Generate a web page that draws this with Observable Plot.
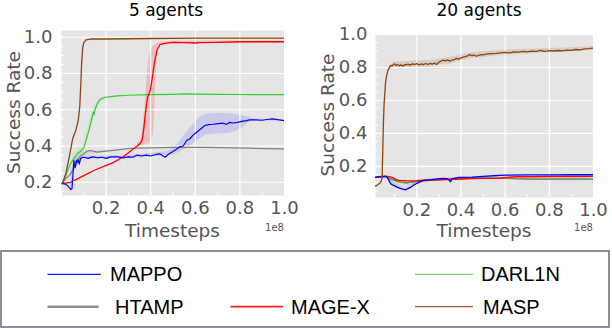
<!DOCTYPE html>
<html><head><meta charset="utf-8">
<script src="https://cdn.jsdelivr.net/npm/d3@7"></script>
<script src="https://cdn.jsdelivr.net/npm/@observablehq/plot@0.6"></script>
<style>
html,body{margin:0;padding:0;background:#fff;}
#chart{position:relative;width:612px;height:328px;overflow:hidden;font-family:"DejaVu Sans",sans-serif;}
#chart > svg{position:absolute;}
</style></head><body><div id="chart"></div>
<script>
// ---------- data ----------
const panelTitles = ["5 agents", "20 agents"];
const xLabel = "Timesteps";
const yLabel = "Success Rate";
const xOffsetText = "1e8";
const xTicks = [0.2, 0.4, 0.6, 0.8, 1.0];
const yTicks = [0.2, 0.4, 0.6, 0.8, 1.0];
const xMinorTicks = [0.0, 0.1, 0.2, 0.3, 0.4, 0.5, 0.6, 0.7, 0.8, 0.9, 1.0];
const yMinorTicks = [0.05, 0.1, 0.15, 0.2, 0.25, 0.3, 0.35, 0.4, 0.45, 0.5, 0.55, 0.6, 0.65, 0.7, 0.75, 0.8, 0.85, 0.9, 0.95, 1.0];
const methods = ["MAPPO", "DARL1N", "HTAMP", "MAGE-X", "MASP"];
const colors = ["#0000ff", "#33cc33", "#808080", "#ff0000", "#8b4513"];
const legendColors = ["#1a1aff", "#7fd07f", "#8a8a8a", "#ff1a1a", "#9a5a3a"];

// 5 agents  [timesteps (1e8), success rate]
const mappo5 = [[0.003,0.195],[0.015,0.19],[0.027,0.182],[0.035,0.17],[0.042,0.16],[0.047,0.165],[0.052,0.25],[0.055,0.32],[0.058,0.30],[0.062,0.28],[0.066,0.32],[0.07,0.31],[0.075,0.325],[0.08,0.30],[0.085,0.33],[0.09,0.335],[0.1,0.338],[0.12,0.332],[0.14,0.34],[0.16,0.335],[0.18,0.338],[0.2,0.332],[0.22,0.34],[0.25,0.34],[0.28,0.335],[0.3,0.34],[0.32,0.338],[0.34,0.35],[0.36,0.345],[0.38,0.35],[0.4,0.345],[0.42,0.352],[0.44,0.357],[0.455,0.345],[0.465,0.338],[0.475,0.35],[0.487,0.36],[0.5,0.37],[0.517,0.384],[0.53,0.395],[0.546,0.40],[0.561,0.43],[0.576,0.44],[0.59,0.46],[0.606,0.476],[0.62,0.49],[0.643,0.513],[0.66,0.518],[0.68,0.52],[0.695,0.522],[0.72,0.526],[0.74,0.52],[0.754,0.53],[0.77,0.527],[0.79,0.53],[0.813,0.537],[0.83,0.54],[0.843,0.544],[0.87,0.544],[0.9,0.542],[0.92,0.546],[0.947,0.55],[0.97,0.545],[1.0,0.54]];
const darl1n5 = [[0.003,0.195],[0.015,0.22],[0.027,0.265],[0.04,0.30],[0.049,0.32],[0.06,0.34],[0.071,0.357],[0.085,0.37],[0.1,0.39],[0.11,0.43],[0.123,0.485],[0.13,0.52],[0.138,0.56],[0.142,0.585],[0.145,0.57],[0.148,0.59],[0.153,0.61],[0.16,0.632],[0.168,0.65],[0.18,0.66],[0.197,0.669],[0.25,0.676],[0.3,0.68],[0.4,0.683],[0.5,0.685],[0.55,0.687],[0.6,0.686],[0.7,0.685],[0.8,0.684],[0.9,0.683],[1.0,0.683]];
const htamp5 = [[0.003,0.195],[0.02,0.22],[0.041,0.246],[0.055,0.28],[0.071,0.32],[0.085,0.345],[0.1,0.357],[0.115,0.372],[0.13,0.375],[0.145,0.37],[0.16,0.366],[0.19,0.37],[0.22,0.375],[0.25,0.379],[0.32,0.388],[0.4,0.39],[0.5,0.392],[0.55,0.393],[0.65,0.392],[0.77,0.39],[0.84,0.388],[0.92,0.386],[1.0,0.384]];
const magex5 = [[0.003,0.195],[0.02,0.195],[0.041,0.2],[0.071,0.219],[0.1,0.237],[0.145,0.265],[0.19,0.288],[0.234,0.31],[0.279,0.342],[0.323,0.385],[0.35,0.41],[0.361,0.43],[0.368,0.485],[0.376,0.577],[0.386,0.669],[0.398,0.706],[0.405,0.761],[0.416,0.853],[0.428,0.927],[0.442,0.96],[0.472,0.967],[0.502,0.972],[0.55,0.97],[0.6,0.968],[0.62,0.97],[0.7,0.972],[0.8,0.975],[0.9,0.975],[1.0,0.975]];
const masp5 = [[0.003,0.19],[0.02,0.25],[0.035,0.34],[0.05,0.44],[0.065,0.49],[0.075,0.54],[0.082,0.62],[0.087,0.75],[0.09,0.85],[0.095,0.94],[0.1,0.97],[0.11,0.985],[0.13,0.99],[0.2,0.99],[0.4,0.993],[0.6,0.995],[0.8,0.995],[1.0,0.995]];

// 5 agents bands [timesteps, low, high]
const mappo5Band = [[0.04,0.15,0.175],[0.06,0.27,0.33],[0.1,0.33,0.345],[0.3,0.333,0.347],[0.48,0.35,0.37],[0.5,0.35,0.39],[0.52,0.36,0.41],[0.546,0.375,0.45],[0.57,0.39,0.49],[0.6,0.42,0.53],[0.62,0.44,0.56],[0.65,0.46,0.575],[0.7,0.467,0.58],[0.75,0.467,0.578],[0.8,0.49,0.57],[0.84,0.53,0.56],[0.86,0.535,0.55],[0.88,0.54,0.547],[1.0,0.535,0.545]];
const magex5Band = [[0.34,0.39,0.41],[0.355,0.40,0.43],[0.362,0.402,0.47],[0.368,0.405,0.53],[0.375,0.408,0.64],[0.385,0.41,0.80],[0.395,0.412,0.90],[0.405,0.43,0.94],[0.412,0.46,0.95],[0.418,0.58,0.955],[0.423,0.78,0.96],[0.43,0.93,0.965],[0.44,0.955,0.968],[0.46,0.96,0.972],[0.5,0.965,0.978],[1.0,0.968,0.98]];
const darl1n5Band = [[0.05,0.30,0.35],[0.1,0.36,0.41],[0.13,0.49,0.56],[0.15,0.58,0.63],[0.18,0.65,0.67],[0.25,0.672,0.68]];
const htamp5Band = [[0.04,0.22,0.27],[0.07,0.29,0.34],[0.1,0.345,0.37],[0.2,0.365,0.38]];

// 20 agents
const mappo20 = [[0.013,0.133],[0.03,0.137],[0.06,0.139],[0.066,0.133],[0.075,0.113],[0.081,0.095],[0.09,0.087],[0.103,0.08],[0.113,0.072],[0.125,0.066],[0.135,0.062],[0.15,0.058],[0.16,0.065],[0.171,0.072],[0.185,0.085],[0.195,0.093],[0.21,0.103],[0.225,0.113],[0.25,0.117],[0.285,0.123],[0.315,0.127],[0.34,0.125],[0.353,0.107],[0.36,0.125],[0.39,0.133],[0.45,0.135],[0.5,0.139],[0.55,0.143],[0.6,0.147],[0.7,0.148],[0.8,0.148],[0.9,0.149],[1.0,0.149]];
const darl1n20 = [[0.013,0.133],[0.03,0.137],[0.06,0.136],[0.09,0.117],[0.12,0.105],[0.15,0.099],[0.18,0.104],[0.225,0.112],[0.3,0.119],[0.376,0.124],[0.45,0.128],[0.57,0.128],[0.65,0.125],[0.72,0.123],[0.85,0.123],[1.0,0.123]];
const htamp20 = [[0.013,0.133],[0.03,0.137],[0.06,0.138],[0.09,0.119],[0.12,0.107],[0.15,0.10],[0.18,0.105],[0.225,0.113],[0.3,0.119],[0.376,0.125],[0.45,0.13],[0.57,0.129],[0.65,0.126],[0.72,0.123],[0.85,0.123],[1.0,0.123]];
const magex20 = [[0.013,0.133],[0.03,0.137],[0.058,0.141],[0.075,0.138],[0.088,0.133],[0.105,0.119],[0.12,0.115],[0.15,0.113],[0.195,0.112],[0.24,0.117],[0.3,0.119],[0.376,0.122],[0.45,0.126],[0.5,0.127],[0.577,0.128],[0.6,0.133],[0.65,0.137],[0.72,0.137],[0.8,0.138],[0.87,0.139],[0.93,0.138],[1.0,0.139]];
const masp20 = [[0.013,0.08],[0.025,0.09],[0.035,0.10],[0.04,0.115],[0.043,0.13],[0.046,0.30],[0.049,0.47],[0.052,0.58],[0.055,0.64],[0.058,0.70],[0.062,0.74],[0.066,0.765],[0.07,0.785],[0.076,0.80],[0.082,0.812],[0.088,0.808],[0.094,0.818],[0.1,0.822],[0.106,0.812],[0.112,0.818],[0.12,0.81],[0.128,0.816],[0.136,0.808],[0.144,0.817],[0.152,0.815],[0.16,0.82],[0.17,0.814],[0.18,0.822],[0.19,0.818],[0.2,0.823],[0.21,0.815],[0.22,0.822],[0.23,0.817],[0.24,0.824],[0.25,0.818],[0.26,0.825],[0.27,0.82],[0.28,0.826],[0.29,0.818],[0.3,0.832],[0.31,0.838],[0.32,0.845],[0.33,0.84],[0.34,0.846],[0.35,0.838],[0.36,0.845],[0.37,0.848],[0.38,0.855],[0.39,0.85],[0.4,0.858],[0.41,0.862],[0.42,0.866],[0.43,0.87],[0.44,0.878],[0.45,0.872],[0.46,0.876],[0.47,0.868],[0.48,0.874],[0.49,0.878],[0.5,0.876],[0.52,0.882],[0.54,0.884],[0.56,0.886],[0.58,0.889],[0.6,0.891],[0.62,0.889],[0.64,0.895],[0.66,0.893],[0.68,0.897],[0.7,0.895],[0.72,0.899],[0.74,0.897],[0.76,0.903],[0.78,0.898],[0.8,0.902],[0.82,0.9],[0.84,0.903],[0.86,0.901],[0.88,0.905],[0.9,0.904],[0.92,0.909],[0.94,0.907],[0.96,0.913],[0.98,0.914],[1.0,0.918]];

// 20 agents bands
const masp20Band = [[0.075,0.78,0.81],[0.1,0.80,0.835],[0.15,0.80,0.835],[0.2,0.80,0.84],[0.25,0.80,0.84],[0.3,0.815,0.85],[0.35,0.82,0.86],[0.4,0.84,0.875],[0.45,0.855,0.89],[0.5,0.86,0.895],[0.6,0.875,0.905],[0.7,0.882,0.91],[0.8,0.89,0.915],[0.9,0.895,0.92],[1.0,0.905,0.928]];
const darl1n20Band = [[0.06,0.13,0.14],[0.09,0.095,0.125],[0.12,0.082,0.118],[0.15,0.078,0.112],[0.18,0.085,0.115],[0.22,0.098,0.12],[0.3,0.11,0.125],[0.4,0.12,0.13]];
const mappo20Band = [[0.07,0.11,0.13],[0.1,0.07,0.09],[0.15,0.05,0.068],[0.2,0.09,0.11],[0.25,0.11,0.122],[0.3,0.12,0.13]];

// ---------- drawing ----------
const fmt = d3.format(".1f");
function panel({lines, bands, xDomain, yDomain, width, height, mL, mR, mT, mB, padY}) {
  const fw = width - mL - mR, fh = height - mT - mB;
  const marks = [
    Plot.frame({fill: "#e5e5e5", stroke: "none"}),
    ...bands.map(([data, i, op]) => Plot.areaY(data, {x: d => d[0], y1: d => d[1], y2: d => d[2], fill: colors[i], fillOpacity: op, clip: true})),
    Plot.gridY(yTicks, {stroke: "white", strokeOpacity: 1, strokeWidth: 1.1}),
    Plot.gridX(xTicks, {stroke: "white", strokeOpacity: 1, strokeWidth: 1.1}),
    Plot.tickY(yMinorTicks.filter(v => v >= yDomain[0] && v <= yDomain[1]), {y: d => d, stroke: "white", insetRight: fw - 3}),
    Plot.tickX(xMinorTicks.filter(v => v >= xDomain[0] && v <= xDomain[1]), {x: d => d, stroke: "white", insetTop: fh - 3}),
    ...lines.map(([data, i, w]) => Plot.line(data, {x: d => d[0], y: d => d[1], stroke: colors[i], strokeWidth: w, clip: true})),
    Plot.axisY(yTicks, {tickSize: 0, tickPadding: padY, tickFormat: fmt, label: null, fontSize: 18}),
    Plot.axisX(xTicks, {tickSize: 0, tickPadding: 6, tickFormat: fmt, label: null, fontSize: 18})
  ];
  return Plot.plot({
    width, height,
    marginLeft: mL, marginRight: mR, marginTop: mT, marginBottom: mB,
    x: {domain: xDomain},
    y: {domain: yDomain},
    style: {fontFamily: "DejaVu Sans", fontSize: "18px", color: "#555555", background: "transparent", overflow: "visible"},
    marks
  });
}

const chart = document.getElementById("chart");

const left = panel({
  lines: [[htamp5, 2, 1.2], [darl1n5, 1, 1.2], [magex5, 3, 1.3], [mappo5, 0, 1.2], [masp5, 4, 1.3]],
  bands: [[mappo5Band, 0, 0.12], [magex5Band, 3, 0.17], [darl1n5Band, 1, 0.12], [htamp5Band, 2, 0.15]],
  xDomain: [0, 1.0], yDomain: [0.127, 1.037],
  width: 300, height: 245, mL: 61, mR: 16, mT: 30, mB: 50, padY: 9
});
left.style.left = "0px"; left.style.top = "0px";
chart.appendChild(left);

const right = panel({
  lines: [[darl1n20, 1, 1.2], [htamp20, 2, 1.3], [magex20, 3, 1.4], [mappo20, 0, 1.3], [masp20, 4, 1.3]],
  bands: [[masp20Band, 4, 0.15], [darl1n20Band, 1, 0.15], [mappo20Band, 0, 0.1]],
  xDomain: [0.013, 1.0], yDomain: [0.011, 1.0],
  width: 312, height: 245, mL: 75, mR: 19, mT: 34, mB: 48, padY: 8
});
right.style.left = "300px"; right.style.top = "0px";
chart.appendChild(right);

// overlay: titles, axis labels, legend
const ov = d3.select(chart).append("svg")
  .attr("width", 612).attr("height", 328)
  .style("left", "0px").style("top", "0px")
  .style("font-family", "DejaVu Sans");

const panelGeo = [{cx: 166, fx: 172.5, fy: 112.5, ly: 13.5, right: 284}, {cx: 479, fx: 484, fy: 115, ly: 327, right: 593}];
panelGeo.forEach((g, i) => {
  ov.append("text").attr("x", g.cx).attr("y", 15.5).attr("text-anchor", "middle")
    .attr("font-size", 17).attr("fill", "#000").text(panelTitles[i]);
  ov.append("text").attr("transform", `translate(${g.ly},${g.fy}) rotate(-90)`)
    .attr("text-anchor", "middle").attr("dy", "0.36em")
    .attr("font-size", 18.5).attr("fill", "#555555").text(yLabel);
  ov.append("text").attr("x", g.fx).attr("y", 237).attr("text-anchor", "middle")
    .attr("font-size", 18.5).attr("fill", "#555555").text(xLabel);
  ov.append("text").attr("x", g.right).attr("y", 231).attr("text-anchor", "end")
    .attr("font-size", 10).attr("fill", "#555555").text(xOffsetText);
});

// legend
ov.append("rect").attr("x", 1).attr("y", 251).attr("width", 608).attr("height", 76)
  .attr("fill", "white").attr("stroke", "#6d6679").attr("stroke-width", 1.5);
const legendGeo = [
  {x1: 47.5, x2: 101, y: 274.3, tx: 110, ty: 281, w: 1.2},
  {x1: 415, x2: 473, y: 274.3, tx: 481, ty: 281, w: 1.3},
  {x1: 47.5, x2: 98.5, y: 306.7, tx: 115, ty: 314, w: 2.5},
  {x1: 230.5, x2: 283, y: 306.7, tx: 291, ty: 314, w: 1.8},
  {x1: 415, x2: 473, y: 306.7, tx: 483, ty: 314, w: 1.3}
];
methods.forEach((m, i) => {
  const g = legendGeo[i];
  ov.append("line").attr("x1", g.x1).attr("x2", g.x2).attr("y1", g.y).attr("y2", g.y)
    .attr("stroke", legendColors[i]).attr("stroke-width", g.w);
  ov.append("text").attr("x", g.tx).attr("y", g.ty).attr("font-family", "Liberation Sans")
    .attr("font-size", 20).attr("fill", "#000").text(m);
});
</script></body></html>
